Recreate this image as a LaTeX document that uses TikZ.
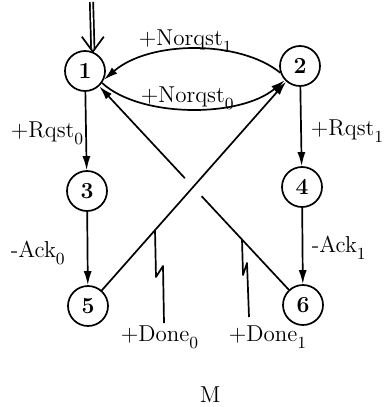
\documentclass[tikz,border=0pt]{standalone}
\usetikzlibrary{arrows.meta,calc}
\newcommand\lsub[1]{\raisebox{-3.8pt}{\fontsize{8.5}{9}\selectfont #1}}
\begin{document}
\begin{tikzpicture}[x=0.5pt,y=-0.5pt, line width=0.85pt, line join=round,
  st/.style={circle,draw,minimum size=20pt,inner sep=0pt,font=\fontsize{11.5}{13}\selectfont\bfseries},
  arr/.style={-{Latex[length=7pt,width=4pt]}},
  lbl/.style={anchor=base west,inner sep=0pt,font=\fontsize{11.5}{13}\selectfont}]
\useasboundingbox (0,0) rectangle (385,407);
\node[st] (n1) at (85,71) {1};
\node[st] (n2) at (300,66) {2};
\node[st] (n3) at (87,191) {3};
\node[st] (n4) at (302,187) {4};
\node[st] (n5) at (88,306) {5};
\node[st] (n6) at (303,305) {6};
% initial arrow
\coordinate (init) at (91.5,2);
\coordinate (tip) at (n1.68);
\draw[double, double distance=0.8pt] (init) -- ($(tip)+(0,-3)$);
\draw ($(tip)+(-11,-15)$) -- (tip) -- ($(tip)+(11,-15)$);
% edges
\draw[arr] (n1) -- (n3);
\draw[arr] (n3) -- (n5);
\draw[arr] (n2) -- (n4);
\draw[arr] (n4) -- (n6);
\draw[arr] (n2.199) .. controls (240,40) and (150,40) .. (n1.-25);
\draw[arr] (n1.-35) .. controls (140,118) and (240,118) .. (n2.223);
\draw[arr] (n5) -- (n2);
\draw (n6) -- ($(n6)!0.465!(n1)$);
\draw[arr] ($(n6)!0.542!(n1)$) -- (n1);
% lightning markers
\coordinate (d0a) at (155,230);
\coordinate (d0b) at (156,277);
\coordinate (d0c) at (163,266);
\coordinate (d0d) at (164,323);
\draw (d0a) -- (d0b) -- (d0c) -- (d0d);
\coordinate (d1a) at (242,239);
\coordinate (d1b) at (243,275);
\coordinate (d1c) at (247,263);
\coordinate (d1d) at (249,317);
\draw (d1a) -- (d1b) -- (d1c) -- (d1d);
% labels
\node[lbl] (ln1) at (138,45) {+Norqst\lsub{1}};
\node[lbl] (ln0) at (140,102) {+Norqst\lsub{0}};
\node[lbl] (lr0) at (10,137) {+Rqst\lsub{0}};
\node[lbl] (lr1) at (310,135) {+Rqst\lsub{1}};
\node[lbl] (la0) at (10,257) {-Ack\lsub{0}};
\node[lbl] (la1) at (311,252) {-Ack\lsub{1}};
\node[lbl] (ld0) at (120,341) {+Done\lsub{0}};
\node[lbl] (ld1) at (228,341) {+Done\lsub{1}};
\node[lbl] (lm) at (199,402) {M};
\end{tikzpicture}
\end{document}
